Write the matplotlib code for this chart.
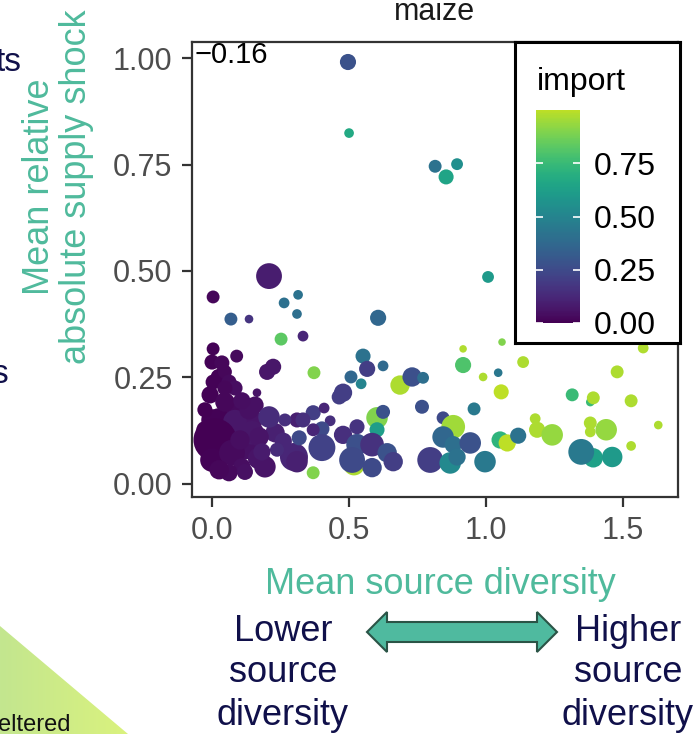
import numpy as np
import matplotlib
matplotlib.use('Agg')
import matplotlib.pyplot as plt
from matplotlib.colors import ListedColormap, LinearSegmentedColormap
from matplotlib.patches import Polygon

plt.rcParams['font.family'] = ['Liberation Sans', 'DejaVu Sans']

# mean source diversity, mean relative absolute supply shock, import share, volume
diversity = np.array([
    0.496, 0.500, 0.814, 0.894, 0.854, 1.007, 1.168, 1.168, 1.471, 0.208,
    0.004, 0.069, 0.135, 0.263, 0.314, 0.310, 0.252, 0.332, 0.606,
    0.551, 0.566, 0.624, 0.507, 0.544, 0.478, 0.464, 0.686, 0.730, 0.770,
    0.766, 0.916, 0.916, 0.989, 1.044, 1.055, 1.058, 0.956, 1.135, 0.372,
    0.843, 0.880, 0.843, 0.880, 0.942, 0.796, 0.869, 0.894, 0.996, 1.051,
    1.077, 1.117, 1.179, 1.186, 1.573, 1.478, 1.314, 1.380, 1.391, 1.529,
    1.241, 1.380, 1.380, 1.438, 1.628, 1.529, 1.391, 1.347, 1.460,
    0.518, 0.332, 0.602, 0.624, 0.602, 0.369, 0.409, 0.310, 0.332, 0.431,
    0.401, 0.369, 0.401, 0.478, 0.529, 0.529, 0.511, 0.584, 0.639, 0.661,
    0.584, 0.369, 0.299, 0.310, 0.318,
    0.026, 0.062, 0.120, 0.026, 0.150, 0.084, 0.026, 0.170, 0.230, 0.260,
    0.090,
    0.004, 0.000, 0.036, 0.047, 0.004, 0.062, 0.084, -0.007, 0.047, 0.164,
    0.157, 0.201, 0.223, 0.208, 0.000, 0.084, 0.135, 0.266, 0.011, 0.146,
    0.172, 0.237, 0.000, 0.073, 0.109, 0.193, 0.062, 0.120, 0.026,
    -0.026, 0.102, -0.026, 0.182, 0.047, 0.109,
])
shock = np.array([
    0.991, 0.824, 0.746, 0.751, 0.721, 0.486, 0.636, 0.458, 0.385, 0.488,
    0.439, 0.387, 0.387, 0.425, 0.444, 0.399, 0.340, 0.347, 0.390,
    0.300, 0.270, 0.277, 0.251, 0.235, 0.214, 0.204, 0.232, 0.251, 0.249,
    0.181, 0.317, 0.279, 0.251, 0.261, 0.216, 0.333, 0.176, 0.286, 0.261,
    0.155, 0.134, 0.110, 0.092, 0.096, 0.056, 0.049, 0.063, 0.052, 0.103,
    0.096, 0.113, 0.153, 0.127, 0.319, 0.263, 0.209, 0.192, 0.202, 0.195,
    0.115, 0.143, 0.122, 0.127, 0.138, 0.089, 0.061, 0.075, 0.063,
    0.045, 0.110, 0.155, 0.169, 0.127, 0.167, 0.178, 0.150, 0.150, 0.148,
    0.129, 0.127, 0.085, 0.115, 0.134, 0.092, 0.056, 0.092, 0.073, 0.052,
    0.038, 0.026, 0.063, 0.052, 0.108,
    0.150, 0.120, 0.085, 0.080, 0.150, 0.180, 0.250, 0.060, 0.120, 0.100,
    0.300,
    0.317, 0.286, 0.284, 0.263, 0.239, 0.239, 0.225, 0.209, 0.192, 0.214,
    0.185, 0.263, 0.275, 0.157, 0.150, 0.146, 0.174, 0.150, 0.103, 0.120,
    0.110, 0.080, 0.056, 0.073, 0.040, 0.040, 0.026, 0.028, 0.033,
    0.174, 0.103, 0.127, 0.075, 0.225, 0.195,
])
import_share = np.array([
    0.28, 0.67, 0.42, 0.55, 0.65, 0.60, 0.80, 0.95, 0.88, 0.09,
    0.02, 0.33, 0.17, 0.41, 0.42, 0.40, 0.83, 0.12, 0.37,
    0.42, 0.20, 0.38, 0.37, 0.50, 0.20, 0.20, 0.97, 0.27, 0.40,
    0.27, 0.98, 0.80, 0.97, 0.44, 1.00, 0.90, 0.45, 0.97, 0.90,
    0.25, 0.95, 0.37, 0.40, 0.28, 0.20, 0.52, 0.42, 0.45, 0.72,
    1.00, 0.42, 0.97, 0.97, 0.98, 0.97, 0.75, 0.75, 0.97, 0.97,
    0.93, 0.97, 0.97, 0.93, 0.97, 0.97, 0.63, 0.45, 0.60,
    0.97, 0.98, 0.90, 0.28, 0.62, 0.20, 0.12, 0.10, 0.15, 0.15,
    0.25, 0.12, 0.22, 0.15, 0.17, 0.27, 0.25, 0.16, 0.28, 0.20,
    0.25, 0.90, 0.12, 0.10, 0.25,
    0.01, 0.02, 0.05, 0.01, 0.06, 0.03, 0.01, 0.06, 0.10, 0.12,
    0.03,
    0.01, 0.01, 0.02, 0.02, 0.01, 0.03, 0.04, 0.01, 0.02, 0.06,
    0.05, 0.07, 0.07, 0.14, 0.01, 0.07, 0.05, 0.15, 0.00, 0.07,
    0.06, 0.14, 0.01, 0.03, 0.04, 0.06, 0.03, 0.05, 0.02,
    0.00, 0.04, 0.00, 0.08, 0.02, 0.04,
])
volume = np.array([
    15, 9, 12, 11, 14, 11, 13, 10, 11, 24,
    12, 12, 8, 10, 9, 9, 12, 10, 15,
    14, 15, 10, 12, 10, 17, 14, 18, 18, 11,
    13, 7, 15, 8, 8, 14, 7, 12, 11, 12,
    12, 22, 20, 16, 20, 24, 20, 16, 20, 16,
    16, 15, 10, 15, 10, 12, 12, 8, 12, 12,
    20, 12, 10, 20, 8, 9, 18, 24, 19,
    20, 5, 20, 13, 14, 14, 10, 14, 14, 10,
    14, 12, 25, 17, 14, 20, 24, 22, 18, 18,
    18, 12, 26, 20, 14,
    22, 24, 22, 24, 18, 18, 16, 20, 18, 16,
    12,
    12, 14, 14, 13, 14, 14, 14, 16, 18, 8,
    16, 15, 15, 20, 20, 22, 18, 12, 40, 22,
    18, 13, 22, 24, 16, 20, 16, 15, 18,
    14, 18, 16, 16, 14, 16,
])

xticks = [0.0, 0.5, 1.0, 1.5]
yticks = [0.00, 0.25, 0.50, 0.75, 1.00]
cbar_ticks = [0.00, 0.25, 0.50, 0.75]

W, H = 696, 734
teal = '#4fba9c'
navy = '#10104a'

def fx(px):
    return px / W

def fy(py):
    return 1 - py / H

cmap = ListedColormap(plt.cm.viridis(np.linspace(0, 0.9, 256)))

fig = plt.figure(figsize=(W / 100, H / 100), dpi=100)

# green corner shape with gradient
bg = fig.add_axes([0, 0, 1, 1], zorder=0)
bg.axis('off')
tri = Polygon([(0, 626), (0, H), (128, H)], closed=True, facecolor='none', edgecolor='none')
bg.add_patch(tri)
green = LinearSegmentedColormap.from_list('corner', ['#c3e68f', '#daf27e'])
grad = bg.imshow(np.linspace(0, 1, 128)[None, :], extent=(0, 128, H, 626),
                 cmap=green, aspect='auto')
grad.set_clip_path(tri)
bg.set_xlim(0, W)
bg.set_ylim(H, 0)

ax = fig.add_axes([fx(192), fy(497), fx(678 - 192), (497 - 42) / H], zorder=1)
sc = ax.scatter(diversity, shock, c=import_share, s=0.6 * volume ** 2,
                cmap=cmap, vmin=0, vmax=1, edgecolors='none', zorder=3)
ax.set_xlim(-0.073, 1.70)
ax.set_ylim(-0.031, 1.038)
ax.set_xticks(xticks)
ax.set_xticklabels([f'{t:.1f}' for t in xticks])
ax.set_yticks(yticks)
ax.set_yticklabels([f'{t:.2f}' for t in yticks])
for s in ax.spines.values():
    s.set_color('#333333')
    s.set_linewidth(1.6)
ax.tick_params(length=7, width=1.6, color='#333333', labelcolor='#4d4d4d',
               labelsize=22, pad=7)

fig.text(fx(435), fy(20), 'maize', ha='center', va='baseline', fontsize=22, color='#1a1a1a')
fig.text(fx(195), fy(63), '\u22120.16', ha='left', va='baseline', fontsize=21, color='black')

# legend box with colourbar
lg = fig.add_axes([fx(515), fy(343), fx(165), (343 - 42) / H], zorder=4)
lg.set_xticks([])
lg.set_yticks([])
for s in lg.spines.values():
    s.set_color('black')
    s.set_linewidth(2.2)
fig.text(fx(537), fy(90), 'import', ha='left', va='baseline', fontsize=23, color='black', zorder=5)

cax = fig.add_axes([fx(536), fy(323), fx(44), (323 - 108) / H], zorder=5)
cb = fig.colorbar(sc, cax=cax, ticks=cbar_ticks)
cb.outline.set_visible(False)
cax.set_ylim(0, 1.01)
cax.yaxis.set_ticks_position('both')
cax.tick_params(direction='in', color='white', length=5, width=1.2,
                labelleft=False, labelright=True, labelsize=23, pad=10)
cax.set_yticklabels([f'{t:.2f}' for t in cbar_ticks])

# axis titles
fig.text(fx(58), fy(187), 'Mean relative\nabsolute supply shock', rotation=90,
         ha='center', va='center', multialignment='center', fontsize=26,
         color=teal, linespacing=1.1)
fig.text(fx(440), fy(594), 'Mean source diversity', ha='center', va='baseline',
         fontsize=26, color=teal)

# diversity arrow and its end labels
ys = [622, 642]
yh = [612, 652]
arrow = Polygon([(fx(367), fy(632)), (fx(387), fy(yh[0])), (fx(387), fy(ys[0])),
                 (fx(537), fy(ys[0])), (fx(537), fy(yh[0])), (fx(557), fy(632)),
                 (fx(537), fy(yh[1])), (fx(537), fy(ys[1])), (fx(387), fy(ys[1])),
                 (fx(387), fy(yh[1]))], closed=True, transform=fig.transFigure,
                facecolor='#4fba9f', edgecolor='#2a5446', linewidth=1.5)
fig.patches.append(arrow)
for word, base in zip(['source', 'diversity'], [682, 725]):
    fig.text(fx(283), fy(base), word, ha='center', va='baseline', fontsize=26, color=navy)
    fig.text(fx(628), fy(base), word, ha='center', va='baseline', fontsize=26, color=navy)
fig.text(fx(283), fy(641), 'Lower', ha='center', va='baseline', fontsize=26, color=navy)
fig.text(fx(628), fy(641), 'Higher', ha='center', va='baseline', fontsize=26, color=navy)

# fragments of neighbouring slide text
fig.text(fx(21), fy(71), 'ts', ha='right', va='baseline', fontsize=24, color=navy)
fig.text(fx(8), fy(383), 's', ha='right', va='baseline', fontsize=24, color=navy)
fig.text(fx(-2), fy(731), 'eltered', ha='left', va='baseline', fontsize=17, color='#111111')

fig.savefig('out.png', dpi=100)
